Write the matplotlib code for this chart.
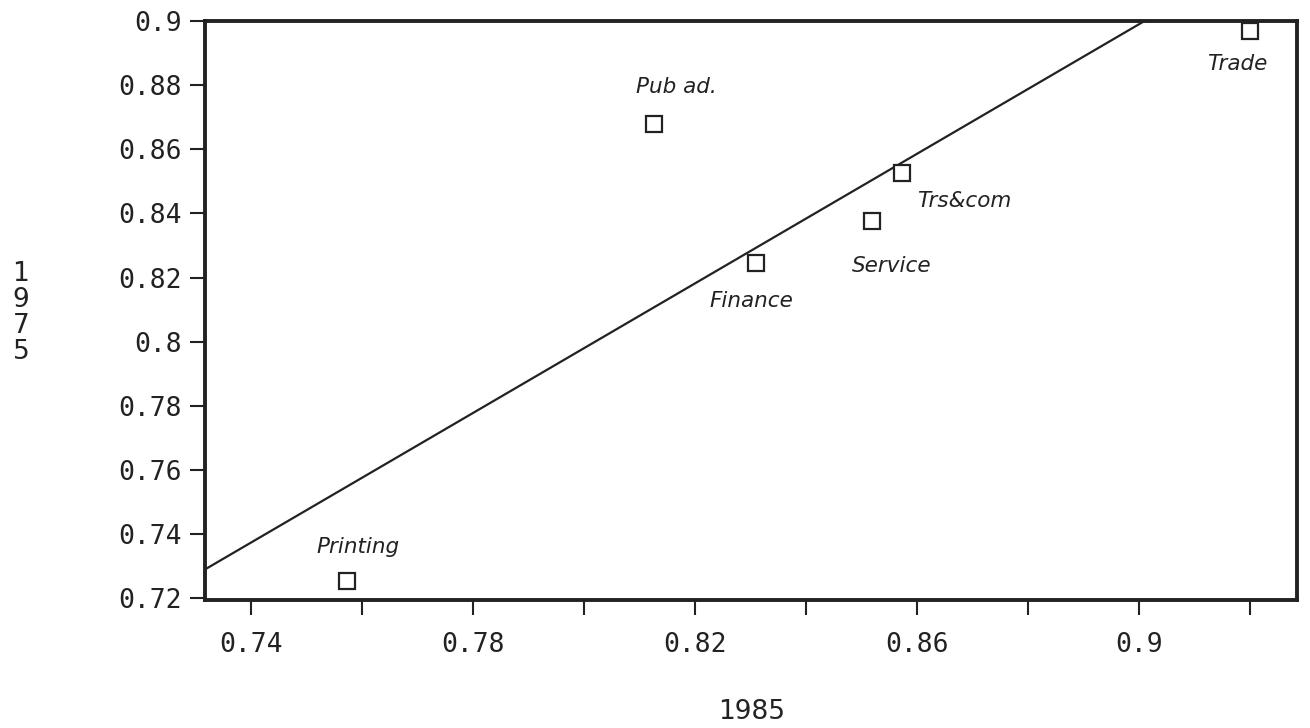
import matplotlib.pyplot as plt
from matplotlib.ticker import FixedLocator, MultipleLocator, FormatStrFormatter

# sector values, 1985 (x) vs 1975 (y)
sectors = ['Printing', 'Pub ad.', 'Finance', 'Service', 'Trs&com', 'Trade']
x_1985 = [0.7573, 0.8126, 0.8310, 0.8520, 0.8573, 0.9200]
y_1975 = [0.7253, 0.8679, 0.8245, 0.8376, 0.8526, 0.8970]

# fitted line, end points
fit_x = [0.7317, 0.9010]
fit_y = [0.7290, 0.9000]

x_labeled = [0.74, 0.78, 0.82, 0.86, 0.90]
x_unlabeled = [0.76, 0.80, 0.84, 0.88, 0.92]

# label offsets from each point, in points
label_off = [(8, 25), (16, 27), (-3, -27), (14, -32), (45, -20), (-9, -24)]

fig = plt.figure(figsize=(13.1, 7.28), dpi=100)
ax = fig.add_axes([0.1565, 0.176, 0.8335, 0.795])

ax.plot(fit_x, fit_y, color='#222222', lw=1.6)
ax.plot(x_1985, y_1975, ls='none', marker='s', ms=12, mfc='white',
        mec='#222222', mew=1.6)

for name, x, y, (dx, dy) in zip(sectors, x_1985, y_1975, label_off):
    ax.annotate(name, (x, y), xytext=(dx, dy), textcoords='offset points',
                ha='center', va='center', fontsize=15.5, style='italic',
                color='#222222')

ax.set_xlim(0.7317, 0.9285)
ax.set_ylim(0.7195, 0.9)

ax.xaxis.set_major_locator(FixedLocator(x_labeled))
ax.xaxis.set_minor_locator(FixedLocator(x_unlabeled))
ax.yaxis.set_major_locator(MultipleLocator(0.02))
ax.xaxis.set_major_formatter(FormatStrFormatter('%g'))
ax.yaxis.set_major_formatter(FormatStrFormatter('%g'))

ax.tick_params(axis='both', which='both', direction='out', length=11,
               width=1.5, color='#222222', labelsize=19, labelcolor='#222222')
ax.tick_params(axis='x', pad=12)
ax.tick_params(axis='y', pad=6)
for lab in ax.get_xticklabels() + ax.get_yticklabels():
    lab.set_family('DejaVu Sans Mono')

for sp in ax.spines.values():
    sp.set_linewidth(2.8)
    sp.set_color('#222222')

fig.text(0.5735, 0.022, '1985', ha='center', va='center', fontsize=19,
         color='#222222')
fig.text(0.016, 0.57, '1\n9\n7\n5', ha='center', va='center', fontsize=19,
         color='#222222', linespacing=1.0)

fig.savefig('out.png', dpi=100)
